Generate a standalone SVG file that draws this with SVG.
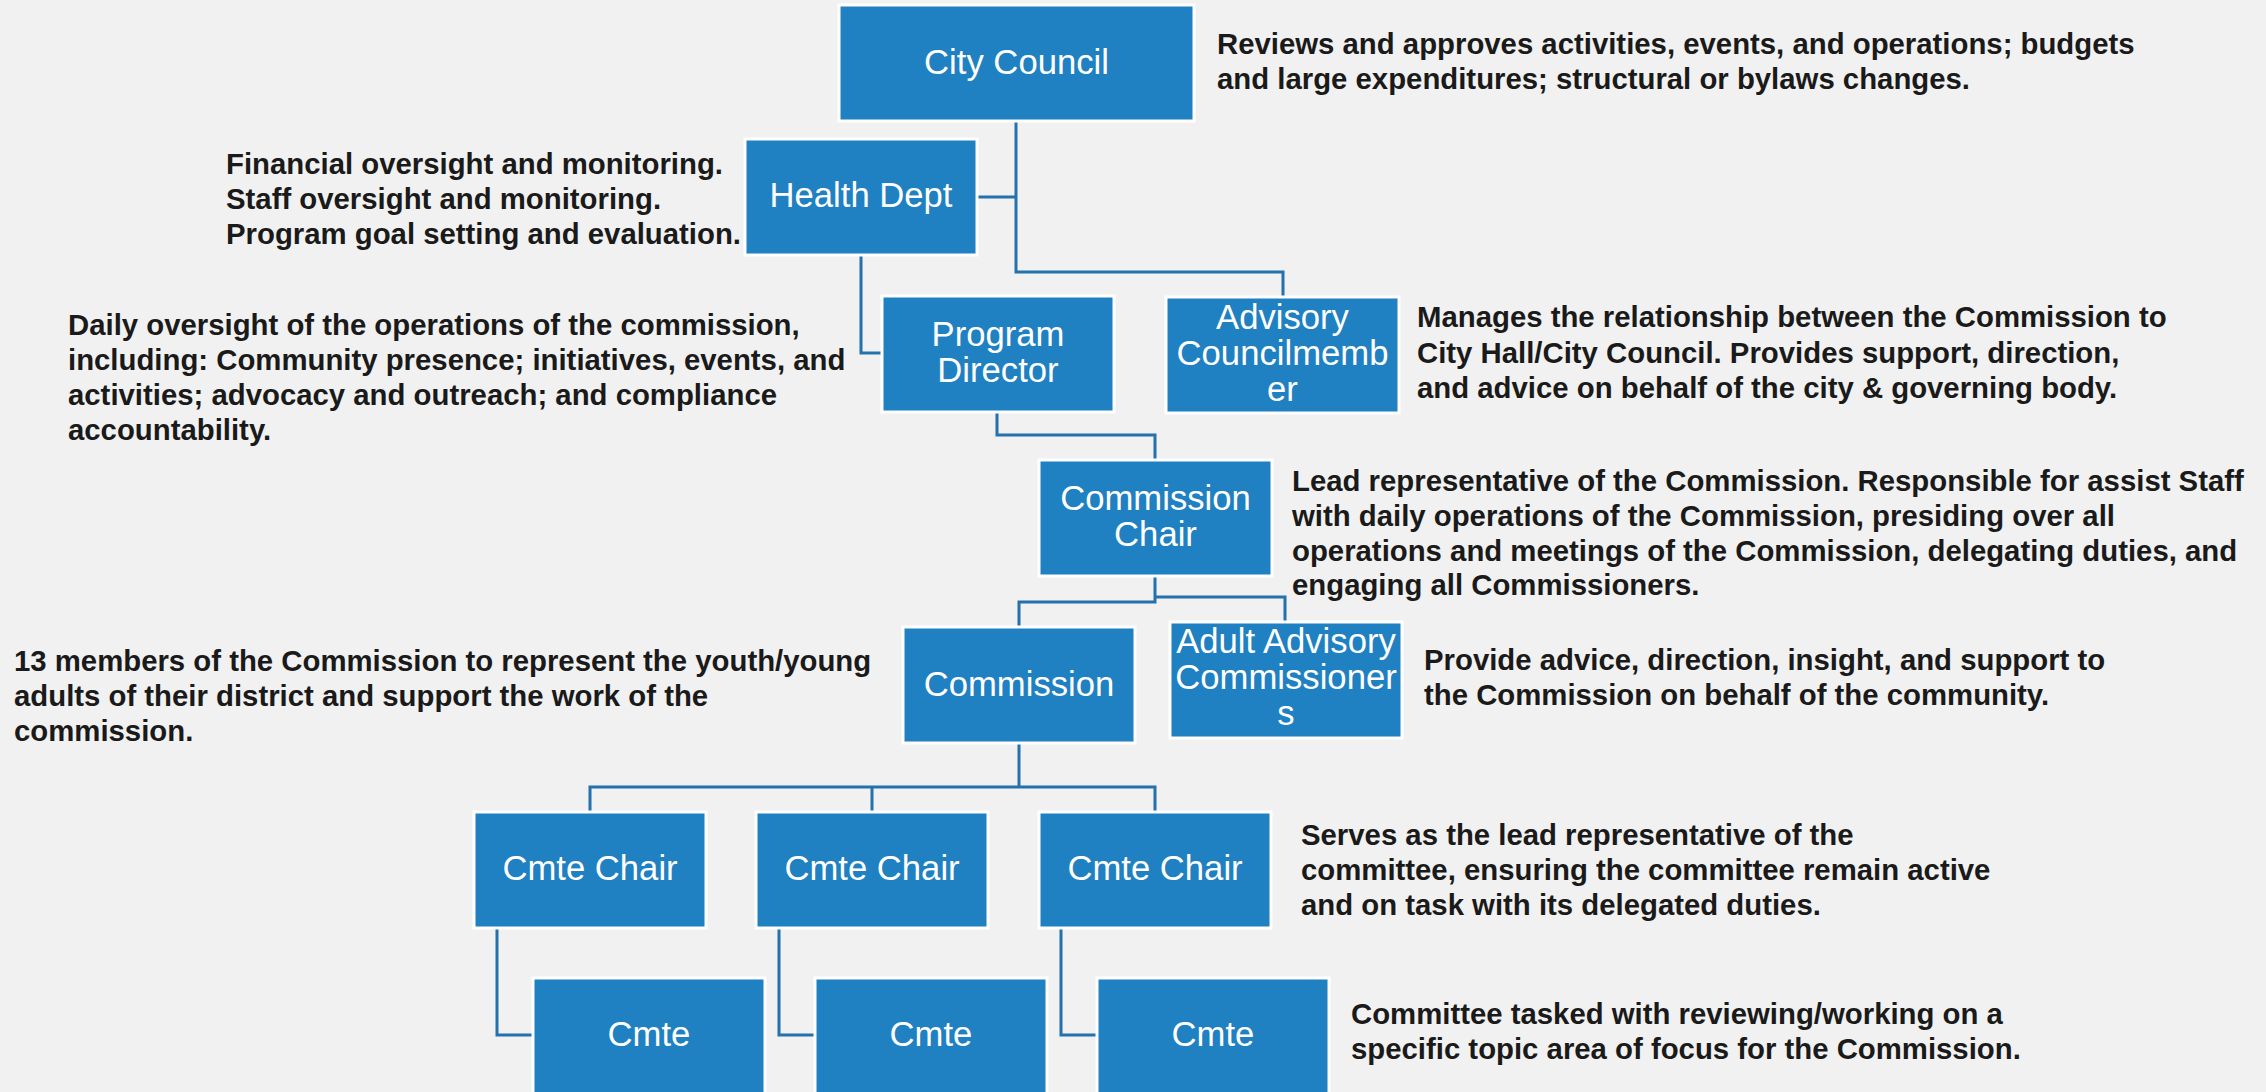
<svg xmlns="http://www.w3.org/2000/svg" width="2266" height="1092" viewBox="0 0 2266 1092">
<style>
.bg{fill:#f1f1f1}
.box{fill:#1f80c2;stroke:#ffffff;stroke-width:3}
.lbl{font-family:"Liberation Sans",Arial,sans-serif;font-size:34.67px;fill:#ffffff;text-anchor:middle}
.desc{font-family:"Liberation Sans",Arial,sans-serif;font-size:29.33px;font-weight:bold;fill:#1a1a1a}
.conn{fill:none;stroke:#2372ad;stroke-width:3}
</style>
<rect class="bg" x="0" y="0" width="2266" height="1092"/>
<g id="connectors">
<path class="conn" d="M1016,121 V272 H1283 V297"/>
<path class="conn" d="M977,197 H1016"/>
<path class="conn" d="M861,255 V353 H882"/>
<path class="conn" d="M997,412 V435 H1155 V460"/>
<path class="conn" d="M1155,576 V602 H1019 V627"/>
<path class="conn" d="M1155,597 H1285 V622"/>
<path class="conn" d="M1019,743 V787"/>
<path class="conn" d="M590,812 V787 H1155 V812"/>
<path class="conn" d="M872,787 V812"/>
<path class="conn" d="M497,928 V1035 H533"/>
<path class="conn" d="M779,928 V1035 H815"/>
<path class="conn" d="M1061,928 V1035 H1097"/>
</g>
<g id="city-council">
<rect class="box" x="839" y="5" width="355" height="116"/>
<text class="lbl" x="1016.5" y="74">City Council</text>
</g>
<g id="health-dept">
<rect class="box" x="745" y="139" width="232" height="116"/>
<text class="lbl" x="861" y="207">Health Dept</text>
</g>
<g id="program-director">
<rect class="box" x="882" y="296" width="232" height="116"/>
<text class="lbl" x="998" y="346">Program</text>
<text class="lbl" x="998" y="382">Director</text>
</g>
<g id="advisory-councilmember">
<rect class="box" x="1166" y="297" width="233" height="116"/>
<text class="lbl" x="1282.5" y="329">Advisory</text>
<text class="lbl" x="1282.5" y="365">Councilmemb</text>
<text class="lbl" x="1282.5" y="401">er</text>
</g>
<g id="commission-chair">
<rect class="box" x="1039" y="460" width="233" height="116"/>
<text class="lbl" x="1155.5" y="510">Commission</text>
<text class="lbl" x="1155.5" y="546">Chair</text>
</g>
<g id="commission">
<rect class="box" x="903" y="627" width="232" height="116"/>
<text class="lbl" x="1019" y="696">Commission</text>
</g>
<g id="adult-advisory">
<rect class="box" x="1170" y="622" width="232" height="116"/>
<text class="lbl" x="1286" y="653">Adult Advisory</text>
<text class="lbl" x="1286" y="689">Commissioner</text>
<text class="lbl" x="1286" y="725">s</text>
</g>
<g id="cmte-chair-1">
<rect class="box" x="474" y="812" width="232" height="116"/>
<text class="lbl" x="590" y="880">Cmte Chair</text>
</g>
<g id="cmte-chair-2">
<rect class="box" x="756" y="812" width="232" height="116"/>
<text class="lbl" x="872" y="880">Cmte Chair</text>
</g>
<g id="cmte-chair-3">
<rect class="box" x="1039" y="812" width="232" height="116"/>
<text class="lbl" x="1155" y="880">Cmte Chair</text>
</g>
<g id="cmte-1">
<rect class="box" x="533" y="978" width="232" height="116"/>
<text class="lbl" x="649" y="1046">Cmte</text>
</g>
<g id="cmte-2">
<rect class="box" x="815" y="978" width="232" height="116"/>
<text class="lbl" x="931" y="1046">Cmte</text>
</g>
<g id="cmte-3">
<rect class="box" x="1097" y="978" width="232" height="116"/>
<text class="lbl" x="1213" y="1046">Cmte</text>
</g>
<g id="descriptions">
<text class="desc" x="1217" y="54">Reviews and approves activities, events, and operations; budgets</text>
<text class="desc" x="1217" y="89">and large expenditures; structural or bylaws changes.</text>
<text class="desc" x="226" y="174">Financial oversight and monitoring.</text>
<text class="desc" x="226" y="209">Staff oversight and monitoring.</text>
<text class="desc" x="226" y="244">Program goal setting and evaluation.</text>
<text class="desc" x="68" y="335">Daily oversight of the operations of the commission,</text>
<text class="desc" x="68" y="370">including: Community presence; initiatives, events, and</text>
<text class="desc" x="68" y="405">activities; advocacy and outreach; and compliance</text>
<text class="desc" x="68" y="440">accountability.</text>
<text class="desc" x="1417" y="327">Manages the relationship between the Commission to</text>
<text class="desc" x="1417" y="363">City Hall/City Council. Provides support, direction,</text>
<text class="desc" x="1417" y="398">and advice on behalf of the city &amp; governing body.</text>
<text class="desc" x="1292" y="491">Lead representative of the Commission. Responsible for assist Staff</text>
<text class="desc" x="1292" y="526">with daily operations of the Commission, presiding over all</text>
<text class="desc" x="1292" y="561">operations and meetings of the Commission, delegating duties, and</text>
<text class="desc" x="1292" y="595">engaging all Commissioners.</text>
<text class="desc" x="14" y="671">13 members of the Commission to represent the youth/young</text>
<text class="desc" x="14" y="706">adults of their district and support the work of the</text>
<text class="desc" x="14" y="741">commission.</text>
<text class="desc" x="1424" y="670">Provide advice, direction, insight, and support to</text>
<text class="desc" x="1424" y="705">the Commission on behalf of the community.</text>
<text class="desc" x="1301" y="845">Serves as the lead representative of the</text>
<text class="desc" x="1301" y="880">committee, ensuring the committee remain active</text>
<text class="desc" x="1301" y="915">and on task with its delegated duties.</text>
<text class="desc" x="1351" y="1024">Committee tasked with reviewing/working on a</text>
<text class="desc" x="1351" y="1059">specific topic area of focus for the Commission.</text>
</g>
</svg>
